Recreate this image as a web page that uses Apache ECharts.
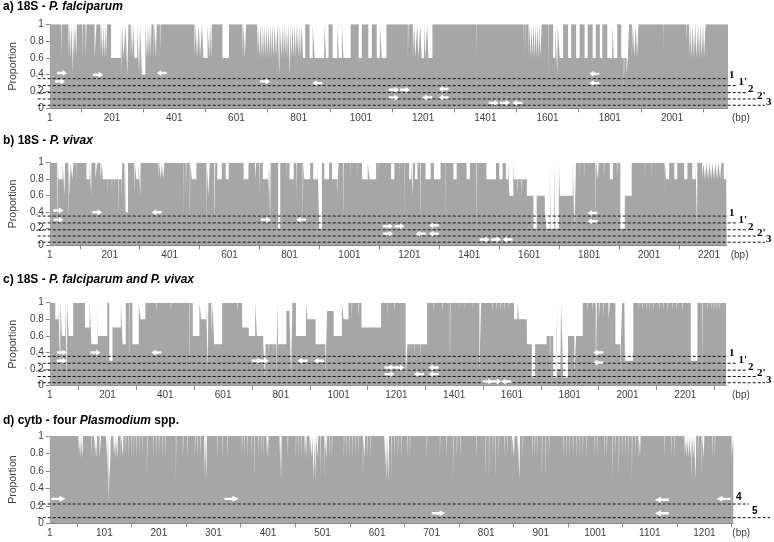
<!DOCTYPE html>
<html><head><meta charset="utf-8">
<script src="https://cdn.jsdelivr.net/npm/echarts@6/dist/echarts.min.js"></script>
<style>html,body{margin:0;padding:0;background:#fff}#c{width:774px;height:542px}</style>
</head><body><div id="c"></div>
<script>
// ---------------- DATA ----------------
const BASE = 1; // proportion outside of the listed dips
const lengthA = 2181, lengthB = 2260, lengthC = 2342, lengthD = 1254;

// dips: [startBp, endBp (exclusive), proportion]
const dipsA = [
[37,39,0.6],[61,64,0.6],[67,71,0.6],[74,76,0.4],[77,80,0.6],[82,84,0.6],[86,88,0.6],[105,107,0.6],[116,119,0.6],[145,151,0.6],
[164,166,0.6],[170,173,0.6],[176,180,0.6],[182,185,0.6],[198,229,0.6],[231,233,0.4],[238,244,0.6],[250,254,0.4],
[261,265,0.6],[267,271,0.6],[273,282,0.6],[288,291,0.4],[297,308,0.4],[313,317,0.6],[319,323,0.6],[325,328,0.6],[335,338,0.6],[342,345,0.6],[355,357,0.6],
[466,470,0.6],[474,480,0.6],[484,490,0.6],[495,508,0.6],[514,516,0.6],[520,522,0.6],[556,577,0.6],
[620,623,0.6],[628,632,0.6],[667,670,0.6],[675,678,0.6],[683,686,0.6],
[689,692,0.6],[695,698,0.6],[701,704,0.6],[707,710,0.6],[713,716,0.6],[720,724,0.6],[728,733,0.6],[739,740,0.4],
[746,748,0.6],[752,754,0.6],[758,760,0.6],[764,767,0.6],[773,774,0.4],[778,781,0.6],[785,788,0.6],[792,795,0.6],
[800,802,0.6],[806,810,0.6],[815,822,0.6],[836,846,0.6],
[852,883,0.6],[889,897,0.6],[910,925,0.6],[930,940,0.6],[945,968,0.6],[994,1004,0.6],[1025,1036,0.6],[1052,1062,0.6],[1068,1083,0.6],
[1152,1154,0.6],[1168,1172,0.6],[1176,1182,0.6],[1186,1192,0.6],[1196,1204,0.6],[1208,1214,0.6],[1218,1231,0.6],[1371,1372,0.6],
[1522,1523,0.6],[1530,1531,0.6],[1540,1542,0.6],[1547,1549,0.6],[1553,1555,0.6],[1560,1562,0.6],[1566,1568,0.6],[1572,1574,0.6],[1578,1582,0.6],
[1603,1604,0.2],[1619,1626,0.6],[1632,1634,0.4],[1640,1651,0.6],[1667,1677,0.6],[1693,1704,0.6],[1720,1730,0.6],[1746,1756,0.6],
[1769,1777,0.6],[1793,1809,0.6],[1814,1825,0.6],
[1838,1863,0.6],[1846,1848,0.2],[1855,1859,0.4],[1872,1875,0.6],[1880,1884,0.6],[1889,1893,0.6],[1972,1973,0.6],[2046,2048,0.8],
[2056,2060,0.6],[2063,2068,0.6],[2071,2076,0.6],[2079,2085,0.6],[2088,2093,0.6],[2096,2101,0.6],[2104,2109,0.6]
];
const dipsB = [
[25,28,0.2],[30,44,0.8],[50,52,0.6],[62,64,0.2],[68,70,0.6],[76,80,0.8],[90,91,0.8],[123,134,0.8],[139,140,0.6],[153,159,0.8],
[170,175,0.8],[178,240,0.8],[194,195,0.6],[205,206,0.6],[215,216,0.6],[230,232,0.4],[240,243,0.6],[250,252,0.4],[254,262,0.4],
[282,285,0.6],[290,297,0.8],[303,304,0.6],[364,366,0.8],[372,374,0.8],[380,383,0.8],
[446,447,0.2],[455,457,0.6],[468,470,0.2],[475,490,0.8],[523,525,0.2],[530,535,0.6],[550,553,0.2],[560,575,0.8],[588,598,0.8],
[648,664,0.8],[686,690,0.8],[700,702,0.6],[712,729,0.8],[731,733,0.6],[736,738,0.2],[763,770,0.2],[791,792,0.8],
[801,815,0.8],[823,825,0.6],[845,847,0.2],[850,870,0.8],[880,895,0.8],[900,909,0.2],[917,933,0.8],[943,965,0.8],[960,962,0.6],[980,982,0.2],
[1004,1005,0.8],[1026,1027,0.8],[1043,1062,0.8],[1068,1090,0.8],[1097,1098,0.8],[1140,1151,0.8],[1168,1169,0.8],[1184,1185,0.2],
[1200,1207,0.8],[1212,1213,0.6],[1220,1228,0.8],[1237,1239,0.2],[1255,1272,0.8],[1283,1305,0.8],[1320,1321,0.2],[1348,1359,0.8],[1392,1403,0.8],
[1425,1427,0.2],[1458,1490,0.8],[1501,1512,0.8],[1523,1530,0.8],[1535,1548,0.6],
[1550,1593,0.8],[1560,1562,0.6],[1575,1577,0.6],[1593,1615,0.6],[1615,1626,0.2],[1626,1653,0.6],[1653,1659,0.4],
[1659,1670,0.2],[1672,1685,0.2],[1688,1700,0.2],[1703,1714,0.6],[1714,1746,0.6],[1752,1757,0.2],[1768,1769,0.8],[1784,1785,0.8],
[1822,1824,0.2],[1830,1833,0.8],[1850,1852,0.8],[1870,1880,0.8],[1895,1897,0.8],[1905,1920,0.2],[1920,1943,0.6],
[1987,1988,0.8],[2009,2010,0.8],[2052,2053,0.6],[2058,2068,0.8],[2085,2095,0.8],[2118,2129,0.8],[2145,2156,0.8],[2161,2162,0.2],
[2178,2182,0.8],[2188,2192,0.8],[2198,2202,0.8],[2208,2212,0.8],[2218,2222,0.8],[2228,2232,0.8],[2238,2242,0.8],[2250,2258,0.8]
];
const dipsC = [
[20,31,0.8],[37,38,0.1],[43,54,0.6],[60,61,0.1],[66,82,0.6],[123,139,0.7],[145,167,0.5],[168,200,0.6],[207,218,0.3],[218,247,0.7],
[253,264,0.5],[275,277,0.1],[287,309,0.5],[315,332,0.8],[370,372,0.9],[420,422,0.9],[485,487,0.1],[496,519,0.6],[525,542,0.8],
[548,550,0.2],[560,564,0.6],[570,598,0.5],[650,652,0.9],[667,690,0.7],[690,712,0.6],[718,757,0.6],[746,748,0.1],
[740,790,0.5],[757,758,0.1],[774,775,0.1],[785,787,0.1],[791,820,0.5],[820,830,0.9],[836,841,0.1],[853,888,0.6],[893,921,0.8],
[921,955,0.5],[955,961,0.1],[961,984,0.9],[984,1012,0.6],[1018,1035,0.8],[1046,1048,0.8],[1068,1070,0.8],[1080,1137,0.7],[1137,1148,0.7],
[1171,1172,0.8],[1193,1195,0.9],[1233,1239,0.1],[1239,1307,0.5],[1262,1263,0.2],[1284,1285,0.2],[1330,1332,0.9],[1360,1362,0.9],
[1386,1388,0.1],[1420,1421,0.9],[1437,1438,0.9],[1465,1466,0.9],[1488,1494,0.1],[1534,1536,0.9],[1547,1549,0.9],[1560,1562,0.9],
[1575,1577,0.9],[1590,1592,0.9],
[1608,1620,0.8],[1625,1652,0.8],[1653,1670,0.5],[1670,1681,0.1],[1681,1721,0.5],[1721,1744,0.6],[1732,1734,0.1],[1744,1756,0.1],
[1758,1768,0.2],[1770,1772,0.1],[1778,1795,0.1],
[1795,1817,0.6],[1817,1823,0.1],[1823,1846,0.6],[1862,1864,0.9],[1879,1881,0.9],[1891,1895,0.1],[1902,1905,0.8],[1918,1920,0.8],[1935,1940,0.8],
[1959,1982,0.5],[1976,1978,0.1],[1990,1992,0.1],[1993,2021,0.3],[2040,2042,0.9],[2052,2054,0.9],[2065,2067,0.9],[2078,2080,0.9],
[2090,2092,0.9],[2110,2112,0.9],[2125,2127,0.9],[2140,2142,0.9],[2155,2157,0.9],[2170,2172,0.9],[2190,2192,0.9],
[2220,2243,0.3],[2259,2261,0.1],[2278,2280,0.9],[2290,2292,0.9],[2300,2302,0.9],[2310,2312,0.9],[2320,2322,0.9]
];
const dipsD = [
[53,54,0.75],[57,58,0.75],[61,62,0.75],[77,78,0.75],[82,83,0.75],[86,88,0.75],[92,95,0.75],
[104,106,0.75],[107,108,0.5],[109,110,0.25],[110,112,0.5],[112,113,0.75],[117,118,0.75],[121,122,0.75],[125,126,0.75],
[131,132,0.75],[135,136,0.75],[140,141,0.75],[145,146,0.75],[150,151,0.75],[155,156,0.75],[160,161,0.75],[165,166,0.75],[170,171,0.75],
[179,180,0.5],[191,192,0.75],[196,197,0.75],[201,202,0.75],[207,208,0.75],[213,214,0.75],[232,233,0.5],[245,246,0.75],[253,254,0.75],
[267,268,0.75],[272,273,0.75],[277,278,0.75],[284,286,0.5],[288,289,0.5],[308,309,0.75],[317,318,0.75],[326,327,0.75],
[353,354,0.75],[358,359,0.75],[363,364,0.75],[371,372,0.75],[376,377,0.5],[383,384,0.75],[388,389,0.75],[393,394,0.75],[398,399,0.75],
[401,402,0.75],[422,423,0.75],[425,426,0.5],[437,438,0.75],[452,453,0.75],[457,458,0.75],[462,463,0.75],[468,469,0.75],[471,472,0.75],
[477,478,0.75],[481,482,0.75],[485,486,0.5],[488,489,0.5],[492,493,0.75],[497,498,0.5],[504,505,0.5],[508,509,0.75],[513,514,0.75],[518,519,0.75],
[540,541,0.75],[545,546,0.75],[550,551,0.75],[555,556,0.75],[561,562,0.75],[566,567,0.75],[575,576,0.5],[578,579,0.75],[583,584,0.75],[589,590,0.75],
[614,615,0.75],[618,619,0.5],[622,623,0.5],[627,628,0.5],[632,633,0.75],[639,640,0.75],[645,646,0.75],[656,657,0.75],[661,662,0.75],
[692,693,0.75],[716,717,0.75],[728,729,0.75],[740,741,0.5],[747,748,0.75],[753,754,0.75],[783,784,0.75],[800,801,0.5],[806,807,0.5],
[813,814,0.75],[818,819,0.5],[824,825,0.75],[834,835,0.75],[840,841,0.75],[848,849,0.75],
[852,853,0.75],[858,859,0.75],[862,863,0.5],[868,869,0.75],[885,886,0.75],[890,891,0.75],[895,896,0.75],[903,904,0.5],[910,911,0.5],[916,917,0.75],
[942,943,0.75],[948,949,0.75],[954,955,0.75],[960,961,0.75],[966,967,0.75],[972,973,0.75],[978,979,0.75],[984,985,0.75],
[999,1000,0.75],[1004,1005,0.75],[1017,1018,0.75],[1022,1023,0.75],[1032,1033,0.5],[1038,1039,0.75],[1044,1045,0.5],[1050,1051,0.75],
[1056,1057,0.75],[1062,1063,0.75],[1068,1069,0.5],[1074,1075,0.75],[1080,1081,0.75],[1083,1084,0.75],
[1128,1129,0.75],[1140,1141,0.75],[1146,1147,0.75],[1164,1165,0.75],[1168,1169,0.75],[1172,1173,0.75],[1176,1177,0.75],[1178,1179,0.5],
[1181,1182,0.75],[1185,1186,0.5],[1190,1191,0.75],[1196,1197,0.5],[1200,1201,0.75],[1215,1216,0.75],[1220,1221,0.75],[1251,1254,0.75]
];

// primer arrows: [bp, proportion]
const primersRightA = [[34,0.32],[40,0.42],[156,0.40],[693,0.32],[1107,0.22],[1143,0.22],[1107,0.13],[1428,0.065],[1464,0.065]];
const primersLeftA  = [[361,0.42],[861,0.30],[1214,0.13],[1267,0.23],[1267,0.13],[1504,0.065],[1751,0.41],[1751,0.30]];
const primersRightB = [[30,0.42],[30,0.31],[159,0.40],[722,0.31],[1130,0.23],[1168,0.23],[1130,0.14],[1452,0.07],[1490,0.07]];
const primersLeftB  = [[358,0.40],[840,0.31],[1239,0.14],[1283,0.24],[1283,0.14],[1529,0.07],[1812,0.39],[1812,0.29]];
const primersRightC = [[43,0.40],[43,0.30],[159,0.40],[718,0.30],[742,0.30],[1177,0.22],[1211,0.22],[1177,0.14],[1517,0.05],[1547,0.05]];
const primersLeftC  = [[370,0.40],[876,0.30],[933,0.30],[1279,0.14],[1330,0.22],[1330,0.14],[1581,0.05],[1900,0.40],[1900,0.28]];
const primersRightD = [[17,0.28],[334,0.28],[714,0.115]];
const primersLeftD  = [[1123,0.27],[1236,0.28],[1123,0.115]];

const thresholdsABC = [0.353, 0.27, 0.187, 0.111, 0.036];
const thresholdNamesABC = ["1", "1'", "2", "2'", "3"];
const thresholdsD = [0.221, 0.065];
const thresholdNamesD = ["4", "5"];

const xLabelsA = [1,201,401,601,801,1001,1201,1401,1601,1801,2001];
const xLabelsBC = [1,201,401,601,801,1001,1201,1401,1601,1801,2001,2201];
const xLabelsD = [1,101,201,301,401,501,601,701,801,901,1001,1101,1201];
const xTicksA = [101,301,501,701,901,1101,1301,1501,1701,1901,2101];
const xTicksB = [101,301,501,701,901,1101,1301,1501,1701,1901,2101];
const xTicksC = [101,301,501,701,901,1101,1301,1501,1701,1901,2101,2301];
const xTicksD = [51,151,251,351,451,551,651,751,851,951,1051,1151,1251];

// ---------------- BUILD ----------------
function toSteps(dips, length) {
  const vals = new Array(length + 1).fill(BASE);
  dips.forEach(([s, e, v]) => { for (let i = s; i < e && i <= length; i++) vals[i] = Math.min(vals[i], v); });
  const pts = [[1, vals[1]]];
  for (let i = 2; i <= length; i++) if (vals[i] !== vals[i - 1]) pts.push([i, vals[i]]);
  pts.push([length, vals[length]]);
  return pts;
}

const FONT = 'Liberation Sans';
const GREY = '#a6a6a6';
const AXIS = '#868686';
const TXT = '#404040';
const ARROW = 'path://M0,3L9,3L9,0L16,5L9,10L9,7L0,7Z';

const panels = [
  { title: '{n|a) 18S - }{i|P. falciparum}', titleTop: 1, top: 24.3, height: 84, right: 728,
    length: lengthA, dips: dipsA, pr: primersRightA, pl: primersLeftA, labels: xLabelsA, ticks: xTicksA,
    thr: thresholdsABC, thrNames: thresholdNamesABC, thrEnds: [728, 737.5, 747, 756, 765], thrOff: [0, -3],
    arrow: [10, 6], bpGap: 4, serif: true },
  { title: '{n|b) 18S - }{i|P. vivax}', titleTop: 134.5, top: 162.7, height: 82.5, right: 726.7,
    length: lengthB, dips: dipsB, pr: primersRightB, pl: primersLeftB, labels: xLabelsBC, ticks: xTicksB,
    thr: thresholdsABC, thrNames: thresholdNamesABC, thrEnds: [728, 737.5, 747, 756, 765], thrOff: [0, -3],
    arrow: [10, 6], bpGap: 4, serif: true },
  { title: '{n|c) 18S - }{i|P. falciparum and P. vivax}', titleTop: 273.5, top: 302.7, height: 83, right: 726,
    length: lengthC, dips: dipsC, pr: primersRightC, pl: primersLeftC, labels: xLabelsBC, ticks: xTicksC,
    thr: thresholdsABC, thrNames: thresholdNamesABC, thrEnds: [728, 737.5, 747, 756, 765], thrOff: [0, -3],
    arrow: [10, 6], bpGap: 6, serif: true },
  { title: '{n|d) cytb - four }{i|Plasmodium}{n| spp.}', titleTop: 415, top: 436, height: 87.3, right: 733.3,
    length: lengthD, dips: dipsD, pr: primersRightD, pl: primersLeftD, labels: xLabelsD, ticks: xTicksD,
    thr: thresholdsD, thrNames: thresholdNamesD, thrEnds: [749, 770], thrOffs: [[-14, -7], [-19, -6]],
    arrow: [14, 6], bpGap: -1, serif: false }
];

const LEFT = 37.7;
const option = { animation: false, title: [], grid: [], xAxis: [], yAxis: [], series: [] };

panels.forEach((p, k) => {
  option.title.push({ left: 3, top: p.titleTop, padding: 0, text: p.title,
    textStyle: { rich: {
      n: { fontFamily: FONT, fontWeight: 'bold', fontSize: 12, color: '#000' },
      i: { fontFamily: FONT, fontWeight: 'bold', fontStyle: 'italic', fontSize: 12, color: '#000' } } } });
  option.grid.push({ left: LEFT, top: p.top, width: p.right - LEFT, height: p.height });
  option.xAxis.push({ gridIndex: k, type: 'value', min: 1, max: p.length,
    axisLine: { show: true, lineStyle: { color: AXIS, width: 1 } },
    axisTick: { show: true, customValues: p.ticks, length: 4, lineStyle: { color: AXIS } },
    axisLabel: { customValues: p.labels, margin: 5, fontSize: 10, color: TXT, fontFamily: FONT, formatter: v => String(v) },
    splitLine: { show: false },
    name: '(bp)', nameLocation: 'end', nameGap: p.bpGap,
    nameTextStyle: { fontSize: 10, color: TXT, fontFamily: FONT, verticalAlign: 'top', align: 'left', padding: [5, 0, 0, 0] } });
  option.yAxis.push({ gridIndex: k, type: 'value', min: 0, max: 1, interval: 0.2,
    axisLine: { show: true, lineStyle: { color: AXIS, width: 1 } },
    axisTick: { show: true, length: 4, lineStyle: { color: AXIS } },
    axisLabel: { margin: 6, fontSize: 10, color: TXT, fontFamily: FONT },
    splitLine: { show: false },
    name: 'Proportion', nameLocation: 'middle', nameGap: 25, nameRotate: 90,
    nameTextStyle: { fontSize: 10.5, color: TXT, fontFamily: FONT } });
  option.series.push({ type: 'line', xAxisIndex: k, yAxisIndex: k, data: toSteps(p.dips, p.length),
    step: 'end', symbol: 'none', silent: true, lineStyle: { width: 0, opacity: 0 },
    areaStyle: { color: GREY, opacity: 1 }, z: 1 });
  option.series.push({ type: 'scatter', xAxisIndex: k, yAxisIndex: k, data: p.pr, symbol: ARROW,
    symbolSize: p.arrow, itemStyle: { color: '#ffffff', opacity: 1 }, silent: true, z: 5 });
  option.series.push({ type: 'scatter', xAxisIndex: k, yAxisIndex: k, data: p.pl, symbol: ARROW, symbolRotate: 180,
    symbolSize: p.arrow, itemStyle: { color: '#ffffff', opacity: 1 }, silent: true, z: 5 });
});

// overlay grids for threshold lines (they extend past the plot area)
panels.forEach((p, k) => {
  const gi = panels.length + k;
  const span = 774 - LEFT;
  option.grid.push({ left: LEFT, top: p.top, width: span, height: p.height });
  option.xAxis.push({ gridIndex: gi, type: 'value', min: 0, max: span, show: false });
  option.yAxis.push({ gridIndex: gi, type: 'value', min: 0, max: 1, show: false });
  p.thr.forEach((t, j) => {
    option.series.push({ type: 'line', xAxisIndex: gi, yAxisIndex: gi, data: [[0, t], [p.thrEnds[j] - LEFT, t]],
      symbol: 'none', silent: true, lineStyle: { color: '#111', width: 1, type: [3, 2] }, z: 3,
      endLabel: { show: true, formatter: p.thrNames[j], distance: 1,
        offset: p.thrOffs ? p.thrOffs[j] : p.thrOff,
        fontFamily: p.serif ? 'Liberation Serif' : FONT, fontWeight: 'bold',
        fontSize: p.serif ? 11 : 10, color: '#000' } });
  });
});

const chart = echarts.init(document.getElementById('c'), null, { renderer: 'canvas' });
chart.setOption(option);
</script>
</body></html>
